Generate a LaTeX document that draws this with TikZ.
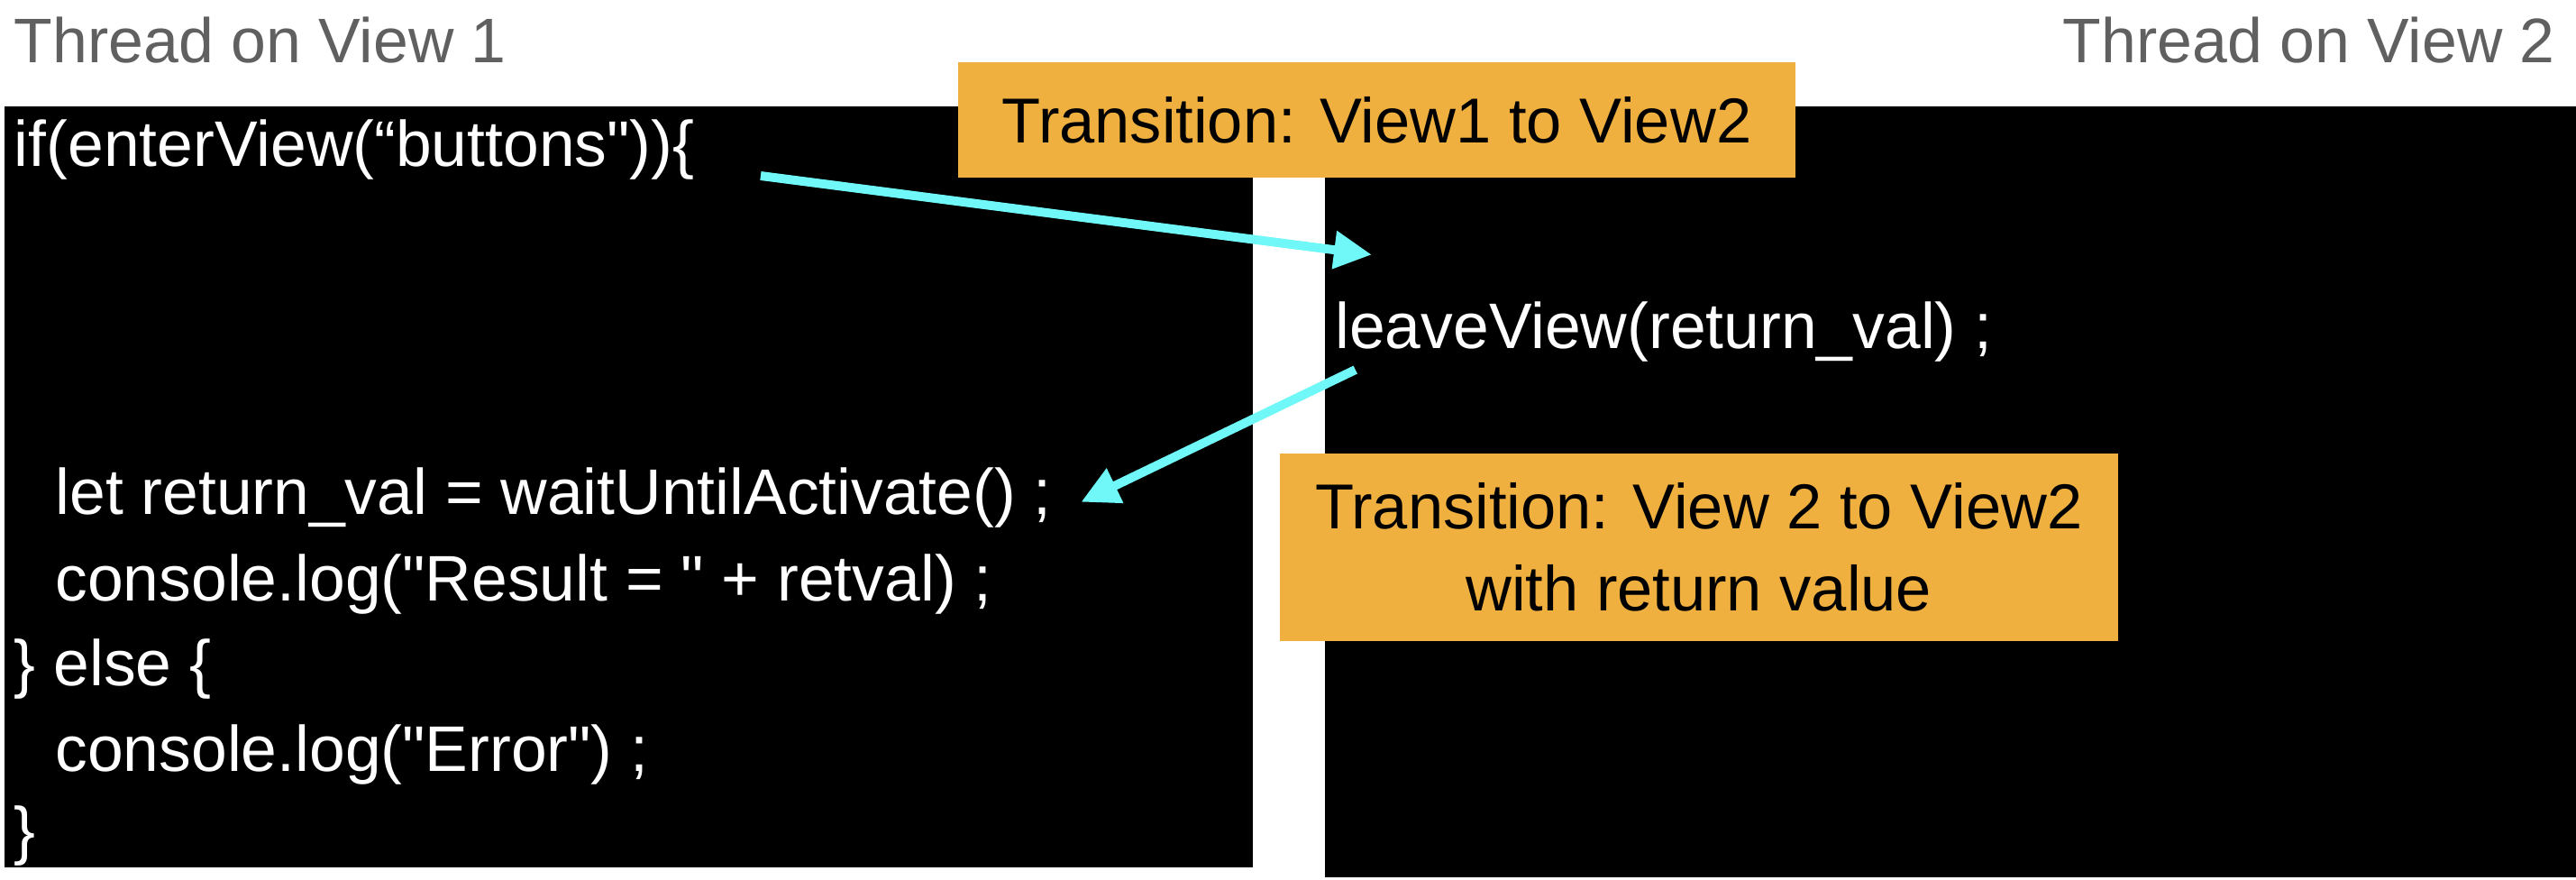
\documentclass[tikz,border=0pt]{standalone}
\usepackage{fontspec}
\setmainfont{Liberation Sans}[Ligatures=TeXOff]
\usetikzlibrary{arrows.meta, positioning}

\definecolor{boxorange}{RGB}{240,176,64}
\definecolor{arrowcyan}{RGB}{112,248,248}
\definecolor{headgray}{RGB}{96,96,96}

\begin{document}
\begin{tikzpicture}[
			panel/.style={rectangle, fill=black, inner sep=0pt, anchor=north west},
			header/.style={text=headgray, inner sep=0pt, font=\fontsize{10.9}{12}\selectfont},
			code/.style={text=white, inner sep=0pt, anchor=base west, font=\fontsize{11.15}{13}\selectfont},
			trans/.style={rectangle, fill=boxorange, inner sep=0pt, align=center,
					minimum width=5.10cm, font=\fontsize{11}{14.2}\selectfont},
			arrow/.style={draw=arrowcyan, line width=1.55pt, -{Triangle[length=2.3mm, width=2.2mm]}},
		]

		\useasboundingbox (0,0) rectangle (15.68,-5.35);

		% --- Panels of the two threads ---
		\node (view1) [panel, minimum width=7.60cm, minimum height=4.63cm] at (0.02,-0.64) {};
		\node (view2) [panel, minimum width=7.62cm, minimum height=4.69cm] at (8.06,-0.64) {};
		\node (head1) [header, anchor=base west] at (0.08,-0.38) {Thread on View 1};
		\node (head2) [header, anchor=base east] at (15.56,-0.38) {Thread on View 2};

		% --- Code on view 1 ---
		\node (enter) [code] at (0.08,-1.01) {if(enterView(“buttons"))\{};
		\node (wait)  [code] at (0.33,-3.13) {let return\_val = waitUntilActivate() ;};
		\node (res)   [code] at (0.33,-3.655) {console.log("Result = " + retval) ;};
		\node (else)  [code] at (0.08,-4.175) {\} else \{};
		\node (err)   [code] at (0.33,-4.695) {console.log("Error") ;};
		\node (close) [code] at (0.08,-5.19) {\}};

		% --- Code on view 2 ---
		\node (leave) [code] at (8.12,-2.12) {leaveView(return\_val) ;};

		% --- Transitions ---
		\node (t12) [trans, minimum height=0.70cm] at (8.38,-0.73) {Transition: View1 to View2};
		\node (t22) [trans, minimum height=1.14cm] at (10.34,-3.33) {Transition: View 2 to View2\\with return value};

		\coordinate (go)   at (4.63,-1.07);
		\coordinate (come) at (8.35,-1.55);
		\coordinate (back) at (8.25,-2.25);
		\coordinate (ret)  at (6.58,-3.055);
		\draw [arrow] (go) -- (come);
		\draw [arrow] (back) -- (ret);

	\end{tikzpicture}
\end{document}
